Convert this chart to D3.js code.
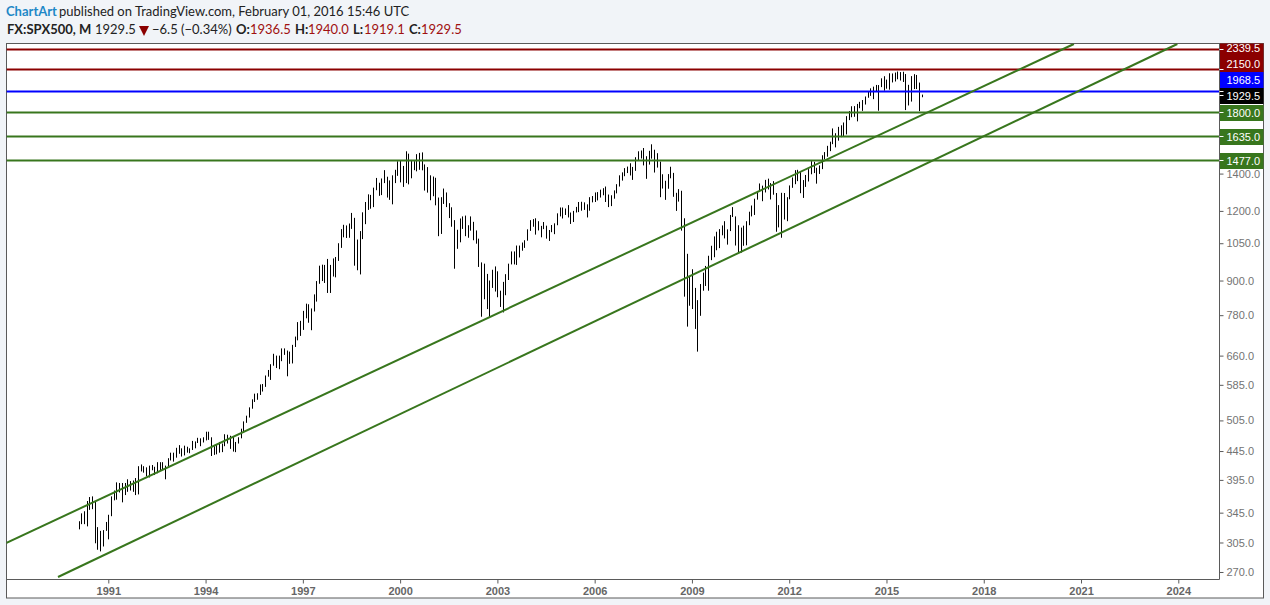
<!DOCTYPE html>
<html><head><meta charset="utf-8">
<script src="https://cdn.jsdelivr.net/npm/d3@7/dist/d3.min.js"></script>
<style>
html,body{margin:0;padding:0;background:#f1f4f8;overflow:hidden}
svg{display:block}
text{font-family:"Liberation Sans",Arial,sans-serif}
.head{font-family:Lato,"Open Sans",sans-serif;font-size:13px;fill:#222}
</style></head><body>
<svg id="c" width="1270" height="605"></svg>
<script>
const firstBar = "Feb 1990";
const highs = [
333,344,347,362,368,369,361,325,320,321,332,
342,369,378,391,390,390,390,396,393,394,398,418,
421,418,416,419,420,417,425,425,425,419,432,442,
442,451,456,450,455,453,450,464,463,470,469,471,
482,482,471,454,457,462,459,477,476,474,473,462,
471,488,503,515,533,551,564,565,586,587,608,622,
637,665,660,660,680,680,674,671,690,714,758,762,
794,818,816,802,850,898,957,961,960,984,960,986,
992,1050,1113,1133,1130,1139,1190,1166,1066,1104,1193,1245,
1285,1282,1321,1375,1348,1372,1420,1382,1361,1390,1422,1473,
1478,1445,1535,1520,1481,1474,1517,1525,1528,1454,1438,1390,
1383,1376,1268,1270,1316,1295,1239,1218,1155,1110,1163,1173,
1177,1131,1173,1147,1107,1070,970,965,925,900,941,954,
935,863,895,924,965,1015,1015,1040,1040,1053,1063,1112,
1155,1160,1164,1150,1128,1146,1129,1109,1132,1140,1188,1217,
1217,1212,1229,1192,1200,1220,1245,1246,1243,1233,1270,1276,
1295,1297,1310,1318,1327,1284,1280,1306,1340,1390,1407,1432,
1441,1461,1439,1498,1535,1540,1556,1504,1538,1580,1545,1523,
1471,1396,1359,1397,1440,1404,1293,1313,1304,1164,1005,917,
943,873,830,887,930,956,997,1039,1080,1101,1113,1130,
1150,1112,1180,1219,1173,1131,1120,1129,1150,1196,1227,1262,
1303,1344,1332,1364,1371,1346,1357,1292,1229,1293,1292,1270,
1333,1378,1420,1422,1415,1363,1392,1426,1474,1470,1434,1448,
1510,1530,1570,1597,1687,1654,1698,1709,1729,1775,1813,1849,
1850,1867,1883,1897,1925,1968,1991,2005,2019,2018,2075,2093,
2064,2119,2117,2125,2134,2129,2132,2112,2020,2094,2111,2104,
2039,1940];
const lows = [
322,329,329,326,349,350,304,296,294,300,320,
309,340,363,364,375,360,371,376,378,376,371,372,
409,407,401,399,411,403,406,410,412,396,418,428,
426,433,440,435,437,442,441,447,450,460,454,461,
465,466,436,438,439,442,443,454,459,449,444,443,
459,469,481,500,511,530,545,550,561,569,580,605,
597,633,627,624,645,662,606,638,639,684,703,716,
734,770,756,733,792,825,888,898,891,855,855,915,
912,976,1030,1076,1073,1074,1114,957,939,923,1068,1136,
1205,1211,1219,1307,1277,1281,1346,1268,1256,1233,1346,1387,
1350,1325,1346,1339,1373,1420,1413,1422,1419,1305,1294,1254,
1275,1228,1081,1091,1235,1219,1165,1124,945,1026,1054,1114,
1081,1074,1106,1063,1048,952,775,833,800,771,873,860,
840,807,789,847,902,962,962,960,990,1018,1030,1061,
1105,1124,1088,1107,1076,1113,1070,1060,1099,1090,1131,1173,
1163,1180,1168,1137,1146,1192,1194,1201,1205,1168,1201,1243,
1245,1253,1268,1280,1245,1219,1224,1262,1290,1327,1360,1385,
1403,1389,1364,1416,1476,1490,1448,1370,1453,1489,1406,1435,
1270,1316,1256,1315,1373,1272,1200,1247,1106,842,744,811,
800,737,671,778,863,880,863,979,991,1020,1029,1085,
1071,1044,1104,1170,1040,1010,1010,1039,1041,1131,1173,1180,
1257,1300,1249,1295,1311,1258,1283,1101,1121,1074,1158,1150,
1259,1320,1340,1357,1291,1266,1325,1355,1396,1403,1343,1398,
1426,1485,1501,1536,1581,1560,1604,1627,1633,1646,1746,1767,
1770,1737,1834,1814,1862,1915,1930,1904,1964,1815,2001,1972,
1988,1980,2040,2048,2067,2056,2044,1820,1855,1885,1985,1985,
1812,1919];
const xYears = [1991,1994,1997,2000,2003,2006,2009,2012,2015,2018,2021,2024];
const yTicks = [270,305,345,395,445,505,585,660,780,900,1050,1200,1400,1600];
const levelPrices = [2339.5,2150,1968.5,1800,1635,1477];
const levelKinds = ["red","red","blue","green","green","green"];
const tagPrices = [1477,1635,1800,1929.5,1968.5,2150,2339.5];
const tagKinds = ["green","green","green","black","blue","red","red"];
const trendUpper = [[1987.845,304.3],[2020.78,2391]];
const trendLower = [[1989.449,264.5],[2023.97,2391]];
const colours = {red:"#8b0000",blue:"#0000ff",green:"#38761d",black:"#000000"};

const L=6.5,R=1219.5,T=43.5,B=579.5,OUT=1263.5,BOT=598;
const svg=d3.select("#c");
const startYear=1990+1/12;
const x=d3.scaleLinear().domain([1991,2024]).range([108.3,1178.3]);
const y=d3.scaleLog().domain([262.3,2401]).range([579,43]);
const tx=i=>Math.round(x(startYear+i/12))+.5;

svg.append("rect").attr("x",L).attr("y",T).attr("width",OUT-L).attr("height",BOT-T).attr("fill","#fff").attr("stroke","#5a5a5a");
svg.append("defs").append("clipPath").attr("id","p").append("rect").attr("x",L).attr("y",T).attr("width",R-L).attr("height",B-T);
const plot=svg.append("g").attr("clip-path","url(#p)");

plot.append("g").selectAll("line").data(highs).join("line")
 .attr("x1",(d,i)=>tx(i)).attr("x2",(d,i)=>tx(i))
 .attr("y1",d=>y(d)).attr("y2",(d,i)=>y(lows[i]))
 .attr("stroke","#000").attr("stroke-width",1);

levelPrices.forEach((p,i)=>{
 const yy=Math.floor(y(p))+.5,c=colours[levelKinds[i]];
 plot.append("line").attr("x1",L).attr("x2",R).attr("y1",yy).attr("y2",yy).attr("stroke",c).attr("stroke-width",3).attr("stroke-opacity",.5);
 plot.append("line").attr("x1",L).attr("x2",R).attr("y1",yy).attr("y2",yy).attr("stroke",c).attr("stroke-width",1);
});
const lg=d3.line().x(d=>x(d[0])).y(d=>y(d[1]));
[trendUpper,trendLower].forEach(t=>plot.append("path").attr("d",lg(t)).attr("fill","none").attr("stroke",colours.green).attr("stroke-width",2));

const ax=d3.axisBottom(x).tickValues(xYears).tickFormat(d3.format("d")).tickSize(4).tickSizeOuter(0);
const gx=svg.append("g").attr("transform",`translate(0,${B})`).call(ax);
gx.select(".domain").attr("d",`M${L},0H${R}`).attr("stroke","#5a5a5a");
gx.selectAll(".tick line").attr("stroke","#5a5a5a");
gx.selectAll("text").attr("font-size",11).attr("font-weight","bold").attr("fill","#666").attr("dy",0).attr("y",15);

const ay=d3.axisRight(y).tickValues(yTicks).tickFormat(d3.format(".1f")).tickSize(4).tickSizeOuter(0);
const gy=svg.append("g").attr("transform",`translate(${R},0)`).call(ay);
gy.select(".domain").attr("d",`M0,${T}V${B}`).attr("stroke","#5a5a5a");
gy.selectAll(".tick line").attr("stroke","#5a5a5a");
gy.selectAll("text").attr("font-size",11).attr("fill","#737373").attr("x",7);

let prev=Infinity;
const tags=svg.append("g");
tagPrices.forEach((p,i)=>{
 const c=Math.min(Math.ceil(y(p)+.05),prev-16); prev=c;
 tags.append("rect").attr("x",R+.5).attr("y",Math.max(c-8,T)).attr("width",OUT-R-.5).attr("height",c+8-Math.max(c-8,T)).attr("fill",colours[tagKinds[i]]);
 tags.append("text").attr("x",R+7).attr("y",c+4).attr("font-size",11).attr("fill","#fff").text(d3.format(".1f")(p));
 tags.append("line").attr("x1",R).attr("x2",R+4).attr("y1",Math.floor(y(p))+.5).attr("y2",Math.floor(y(p))+.5).attr("stroke","#fff");
});

const put=(x0,yy,s,o={})=>{const t=svg.append("text").attr("class","head").attr("x",x0).attr("y",yy).text(s);
 if(o.b)t.attr("font-weight","bold"); if(o.f)t.style("fill",o.f); return t;};
put(6,16,"ChartArt",{b:1,f:"#1e88c7"});
put(59,16,"published on TradingView.com, February 01, 2016 15:46 UTC");
put(7,34,"FX:SPX500, M",{b:1});
put(95,34,"1929.5");
svg.append("path").attr("d","M139,26H149L144,36Z").attr("fill","#8b0000");
put(152,34,"\u22126.5 (\u22120.34%)");
const red="#a01010";
[["O:","1936.5",236,250],["H:","1940.0",295,308],["L:","1919.1",353,364],["C:","1929.5",409,421]].forEach(a=>{
 put(a[2],34,a[0],{b:1}); put(a[3],34,a[1],{f:red});
});
</script></body></html>
